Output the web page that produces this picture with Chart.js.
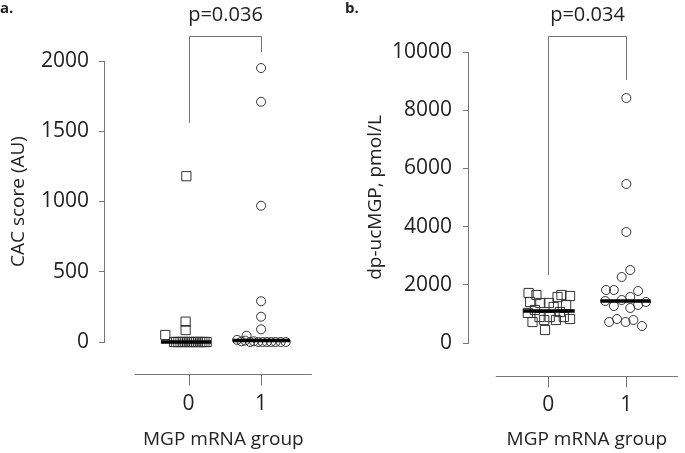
<!DOCTYPE html>
<html>
<head>
<meta charset="utf-8">
<script src="https://cdn.jsdelivr.net/npm/chart.js@4.4.1/dist/chart.umd.min.js"></script>
<style>
    html, body { margin: 0; padding: 0; background: #fff; }
    #wrap { position: relative; width: 685px; height: 453px; overflow: hidden; }
    canvas { position: absolute; top: 0; }
    #chartA { left: 0; }
    #chartB { left: 342px; }
</style>
</head>
<body>
<div id="wrap">
    <canvas id="chartA" width="342" height="453"></canvas>
    <canvas id="chartB" width="343" height="453"></canvas>
</div>
<script>
// --- data ---
const groupTicks = ['0', '1'];
const groupTitle = 'MGP mRNA group';

// a. CAC score (AU), MGP mRNA group 0 (squares) and 1 (circles)
const cacGroup0 = [1180, 145, 85, 50, 0, 0, 0, 0, 0, 0, 0, 0, 0, 0, 0, 0, 0, 0, 0, 0];
const cacGroup0Jitter = [-0.03, -0.04, -0.04, -0.32, -0.2, -0.17, -0.14, -0.11, -0.08, -0.05, -0.02, 0.01, 0.04, 0.07, 0.1, 0.13, 0.16, 0.19, 0.22, 0.25];
const cacGroup1 = [1950, 1710, 970, 290, 180, 90, 45, 15, 5, 10, 0, 5, 0, 0, 0, 0, 0, 0, 0];
const cacGroup1Jitter = [0, 0, 0, 0, 0, 0, -0.2, -0.33, -0.27, -0.22, -0.15, -0.1, -0.04, 0.02, 0.08, 0.14, 0.2, 0.27, 0.34];
const cacMedians = [0, 10];
const cacP = 'p=0.036';

// b. dp-ucMGP, pmol/L
const mgpGroup0 = [1718, 1409, 1649, 1374, 1374, 1580, 1649, 1615, 1306, 1237, 1031, 722, 893, 790, 893, 790, 893, 825, 447, 1134, 1065];
const mgpGroup0Jitter = [-0.25, -0.23, -0.15, -0.1, 0.01, 0.12, 0.17, 0.28, 0.23, 0.07, -0.26, -0.2, -0.11, -0.05, 0.02, 0.1, 0.2, 0.28, -0.04, -0.17, 0.15];
const mgpGroup1 = [8419, 5464, 3814, 2509, 2268, 1821, 1821, 1787, 1443, 1271, 1478, 1581, 1203, 1306, 1409, 722, 825, 722, 790, 584];
const mgpGroup1Jitter = [0, 0, 0, 0.05, -0.06, -0.26, -0.16, 0.15, -0.27, -0.16, -0.06, 0.05, 0.05, 0.15, 0.25, -0.22, -0.12, -0.01, 0.09, 0.2];
const mgpMedians = [1100, 1443];
const mgpP = 'p=0.034';

Chart.defaults.font.family = "'Open Sans', sans-serif";
Chart.defaults.color = '#222';

const AXIS_GREY = '#777';

// draws the detached x axis (line, ticks, title), the bracket, p value and panel letter
const panelExtras = {
    id: 'panelExtras',
    afterDraw(chart) {
        const o = chart.options.plugins.panelExtras;
        const { ctx } = chart;
        const xs = chart.scales.x, ys = chart.scales.y;
        ctx.save();
        ctx.strokeStyle = AXIS_GREY;
        ctx.lineWidth = 1;

        // x axis line with tick marks under each group
        const ay = Math.round(ys.getPixelForValue(0) + o.axisGap) + 0.5;
        const ax0 = xs.getPixelForValue(o.axisFrom), ax1 = xs.getPixelForValue(o.axisTo);
        ctx.beginPath();
        ctx.moveTo(ax0, ay);
        ctx.lineTo(ax1, ay);
        [0, 1].forEach(v => {
            const px = Math.round(xs.getPixelForValue(v)) + 0.5;
            ctx.moveTo(px, ay);
            ctx.lineTo(px, ay + 11);
        });
        ctx.stroke();

        // bracket between the groups
        const bl = Math.round(xs.getPixelForValue(0)) + 0.5;
        const br = Math.round(xs.getPixelForValue(1)) + 0.5;
        const bt = Math.round(ys.getPixelForValue(o.bracketTop)) + 0.5;
        ctx.beginPath();
        ctx.moveTo(bl, ys.getPixelForValue(o.bracketLeft));
        ctx.lineTo(bl, bt);
        ctx.lineTo(br, bt);
        ctx.lineTo(br, ys.getPixelForValue(o.bracketRight));
        ctx.stroke();

        ctx.fillStyle = '#222';
        ctx.textAlign = 'center';
        ctx.textBaseline = 'alphabetic';
        ctx.font = "20px 'Open Sans', sans-serif";
        ctx.fillText(o.pText, (bl + br) / 2, 21);

        // x axis title, centred under the axis line
        ctx.font = "19px 'Open Sans', sans-serif";
        ctx.fillText(groupTitle, (ax0 + ax1) / 2, 445);

        ctx.textAlign = 'left';
        ctx.font = "bold 15px 'Open Sans', sans-serif";
        ctx.fillText(o.letter, o.letterX, 13);
        ctx.restore();
    }
};

function groupPoints(values, jitter, center) {
    return values.map((v, i) => ({ x: center + jitter[i], y: v }));
}

function medianLine(value, jitter, center) {
    return [
        { x: center + Math.min(...jitter) - 0.06, y: value },
        { x: center + Math.max(...jitter) + 0.06, y: value }
    ];
}

function makePanel(id, p) {
    const ctx = document.getElementById(id);
    return new Chart(ctx, {
        type: 'scatter',
        data: {
            datasets: [
                {
                    type: 'line', data: medianLine(p.medians[0], p.jit0, 0),
                    borderColor: '#000', borderWidth: 3.5, pointRadius: 0, clip: false
                },
                {
                    type: 'line', data: medianLine(p.medians[1], p.jit1, 1),
                    borderColor: '#000', borderWidth: 3.5, pointRadius: 0, clip: false
                },
                {
                    data: groupPoints(p.g0, p.jit0, 0),
                    pointStyle: 'rect', pointRadius: p.squareR, borderColor: '#333',
                    borderWidth: 1, backgroundColor: 'rgba(0,0,0,0)', clip: false
                },
                {
                    data: groupPoints(p.g1, p.jit1, 1),
                    pointStyle: 'circle', pointRadius: p.circleR, borderColor: '#333',
                    borderWidth: 1, backgroundColor: 'rgba(0,0,0,0)', clip: false
                }
            ]
        },
        options: {
            responsive: false,
            animation: false,
            devicePixelRatio: 1,
            layout: { padding: { top: p.top, right: p.right, bottom: 0, left: 0 } },
            plugins: {
                legend: { display: false },
                tooltip: { enabled: false },
                panelExtras: p.extras
            },
            scales: {
                x: {
                    type: 'linear', min: p.xMin, max: p.xMax,
                    afterFit: s => { s.height = p.xHeight; },
                    afterBuildTicks: s => { s.ticks = [{ value: 0 }, { value: 1 }]; },
                    ticks: {
                        padding: 41, color: '#222', font: { size: 21 },
                        callback: v => groupTicks[v]
                    },
                    grid: { display: false },
                    border: { display: false },
                    title: { display: false }
                },
                y: {
                    min: 0, max: p.yMax,
                    afterFit: s => { s.width = p.yWidth; },
                    ticks: {
                        stepSize: p.yStep, padding: p.yPad, color: '#222', font: { size: 21 },
                        callback: v => String(v)
                    },
                    grid: { drawOnChartArea: false, drawTicks: true, tickLength: 5, color: AXIS_GREY },
                    border: { display: true, color: AXIS_GREY },
                    title: {
                        display: true, text: p.yTitle, color: '#222',
                        font: { size: 19 }, padding: { top: p.yTitlePad, bottom: 0 }
                    }
                }
            }
        },
        plugins: [panelExtras]
    });
}

makePanel('chartA', {
    g0: cacGroup0, jit0: cacGroup0Jitter, g1: cacGroup1, jit1: cacGroup1Jitter,
    medians: cacMedians,
    yMax: 2000, yStep: 500, yTitle: 'CAC score (AU)',
    top: 61, right: 12, xHeight: 111, yWidth: 104, yPad: 10, yTitlePad: 7,
    xMin: -1.165, xMax: 1.95, squareR: 6.5, circleR: 4.5,
    extras: {
        axisGap: 32, axisFrom: -0.74, axisTo: 1.7,
        bracketTop: 2178, bracketLeft: 1559, bracketRight: 2064,
        pText: cacP, letter: 'a.', letterX: 0
    }
});

makePanel('chartB', {
    g0: mgpGroup0, jit0: mgpGroup0Jitter, g1: mgpGroup1, jit1: mgpGroup1Jitter,
    medians: mgpMedians,
    yMax: 10000, yStep: 2000, yTitle: 'dp-ucMGP, pmol/L',
    top: 52, right: 0, xHeight: 110, yWidth: 126, yPad: 11, yTitlePad: 22,
    xMin: -1.025, xMax: 1.654, squareR: 6.5, circleR: 4.5,
    extras: {
        axisGap: 33, axisFrom: -0.67, axisTo: 1.66,
        bracketTop: 10549, bracketLeft: 2336, bracketRight: 9037,
        pText: mgpP, letter: 'b.', letterX: 3
    }
});
</script>
</body>
</html>
